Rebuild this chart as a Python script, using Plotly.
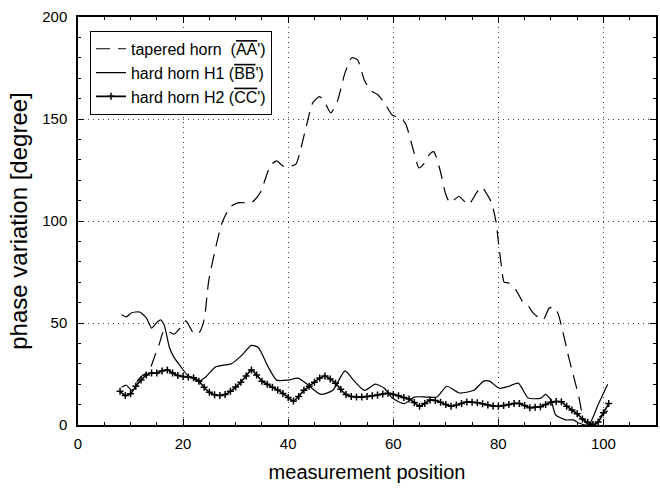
import plotly.graph_objects as go

# tapered horn (AA')
taper_x = [8.3, 9.2, 10.2, 11.7, 13.6, 14.5, 15.5, 16.4, 17.5, 18.3, 19.6, 20.5, 21.3, 22.0, 23.0, 24.0,
           24.9, 27.4, 29.0, 30.6, 33.0, 34.7, 36.6, 37.8, 39.0, 40.6, 41.5, 43.4, 44.7, 46.0, 47.0,
           48.1, 49.4, 50.8, 52.1, 53.2, 54.5, 55.7, 57.0, 58.3, 59.8, 61.3, 62.3, 64.0, 64.9, 65.8,
           67.0, 67.7, 68.9, 70.0, 70.8, 72.5, 74.3, 75.8, 76.8, 77.7, 78.7, 79.6, 80.0, 80.6, 81.1,
           82.0, 83.4, 84.7, 85.8, 86.6, 88.5, 89.6, 90.4, 91.3, 93.4, 95.3, 96.2, 97.2, 98.5, 99.8, 100.8]
taper_y = [18.5, 19.5, 17.0, 23.0, 27.0, 33.0, 40.0, 46.5, 45.5, 44.5, 48.0, 51.0, 48.0, 45.0, 45.0, 51.5,
           71.0, 99.0, 107.0, 109.0, 109.0, 114.0, 127.0, 129.5, 127.0, 127.0, 128.0, 146.0, 158.0, 161.0, 158.0,
           153.0, 159.0, 172.5, 180.0, 179.0, 169.0, 164.0, 162.0, 158.0, 152.0, 150.5, 148.0, 133.0, 126.0, 128.0,
           133.0, 134.0, 125.0, 113.0, 109.0, 112.0, 108.0, 113.7, 116.7, 113.7, 109.0, 99.0, 89.7, 77.5, 70.0,
           69.6, 66.0, 60.0, 58.0, 55.0, 51.5, 57.0, 58.0, 55.0, 33.0, 14.0, 3.0, 0.0, 2.5, 5.0, 7.0]

# hard horn H1 (BB')
h1_x = [8.3, 9.2, 10.2, 11.7, 13.0, 14.0, 14.9, 15.7, 16.4, 17.4, 18.3, 19.6, 20.8, 23.0, 24.3, 26.2,
        28.1, 29.2, 31.1, 33.0, 34.3, 36.2, 37.8, 40.0, 41.9, 43.8, 46.2, 48.5, 50.8, 52.6, 54.5,
        56.6, 58.3, 59.8, 62.1, 64.0, 66.4, 68.3, 70.2, 72.6, 75.3, 77.2, 78.3, 80.2, 82.0, 83.8,
        85.7, 88.1, 89.0, 90.0, 90.9, 92.8, 94.3, 95.3, 97.2, 99.0, 100.8]
h1_y = [54.0, 53.0, 55.0, 55.4, 52.5, 47.5, 50.0, 51.5, 49.0, 38.0, 33.0, 28.5, 24.5, 21.5, 23.5, 28.5,
        29.5, 30.0, 34.0, 39.0, 38.0, 28.5, 22.0, 22.0, 23.0, 19.6, 15.0, 17.0, 26.5, 21.5, 17.0,
        20.0, 18.0, 13.2, 10.5, 13.7, 13.7, 13.7, 19.0, 15.7, 17.0, 21.5, 21.5, 18.0, 19.0, 20.5,
        13.2, 13.2, 15.0, 12.3, 5.0, 2.5, 2.5, 1.0, 0.0, 10.0, 20.0]

# hard horn H2 (CC')
h2_x = list(range(8, 102))
h2_y = [16.5, 14.5, 15.3, 19.0, 22.0, 24.5, 25.5, 25.5, 26.5, 27.0, 25.5, 24.3, 23.8, 23.5, 23.2, 21.5,
        18.5, 16.0, 14.8, 14.5, 15.0, 16.5, 18.6, 21.0, 24.0, 27.0, 24.5, 21.5, 20.0, 18.5, 17.2, 15.5,
        13.5, 11.8, 14.0, 17.0, 19.0, 21.0, 23.0, 24.0, 22.5, 20.5, 17.5, 15.0, 14.0, 13.7, 13.7, 14.0,
        14.3, 14.7, 15.2, 15.6, 15.0, 14.3, 13.5, 12.8, 11.0, 9.2, 10.5, 12.2, 12.0, 11.2, 10.0, 9.2,
        9.8, 10.6, 11.3, 11.2, 10.9, 10.4, 9.8, 9.3, 9.2, 9.5, 10.0, 10.5, 10.6, 9.5, 8.5, 8.7,
        9.0, 10.0, 11.2, 11.5, 11.4, 9.2, 7.3, 5.5, 3.0, 1.3, 0.2, 1.5, 6.0, 10.5]

names = ["tapered horn  (<span style='text-decoration:overline'>AA</span>')",
         "hard horn H1 (<span style='text-decoration:overline'>BB</span>')",
         "hard horn H2 (<span style='text-decoration:overline'>CC</span>')"]

FONT = "Liberation Sans, Arial, sans-serif"

fig = go.Figure()
fig.add_trace(go.Scatter(x=taper_x, y=taper_y, mode="lines", name=names[0],
                         line=dict(color="black", width=1.2, dash="14px,8px", shape="spline", smoothing=0.6)))
fig.add_trace(go.Scatter(x=h1_x, y=h1_y, mode="lines", name=names[1],
                         line=dict(color="black", width=1.2, shape="spline", smoothing=0.6)))
fig.add_trace(go.Scatter(x=h2_x, y=h2_y, mode="lines+markers", name=names[2],
                         line=dict(color="black", width=1.6, shape="spline", smoothing=0.6),
                         marker=dict(symbol="cross-thin", size=5, line=dict(color="black", width=1.5))))

axis_common = dict(showline=True, linecolor="black", linewidth=1.5, mirror="ticks",
                   ticks="inside", ticklen=6, tickcolor="black", tickwidth=1,
                   showgrid=True, gridcolor="#444444", griddash="1px,4px", gridwidth=1,
                   zeroline=False, tickfont=dict(family=FONT, size=15, color="black"))

fig.update_xaxes(range=[0, 110], tickvals=[0, 20, 40, 60, 80, 100],
                 minor=dict(dtick=5, ticks="inside", ticklen=3, tickcolor="black", showgrid=False),
                 title=dict(text="measurement position", font=dict(family=FONT, size=20, color="black"), standoff=14),
                 ticklabelstandoff=4, **axis_common)
fig.update_yaxes(range=[0, 200], tickvals=[0, 50, 100, 150, 200],
                 minor=dict(dtick=10, ticks="inside", ticklen=3, tickcolor="black", showgrid=False),
                 title=dict(text="phase variation [degree]", font=dict(family=FONT, size=24, color="black"), standoff=8),
                 ticklabelstandoff=6, **axis_common)

fig.update_layout(
    width=660, height=491,
    margin=dict(l=78, r=2, t=17, b=66),
    plot_bgcolor="white", paper_bgcolor="white",
    font=dict(family=FONT, color="black"),
    legend=dict(x=0.0207, y=0.966, xanchor="left", yanchor="top",
                bgcolor="white", bordercolor="black", borderwidth=1,
                font=dict(family=FONT, size=16, color="black"), tracegroupgap=0),
    showlegend=True,
)

fig.write_html("out.html")
